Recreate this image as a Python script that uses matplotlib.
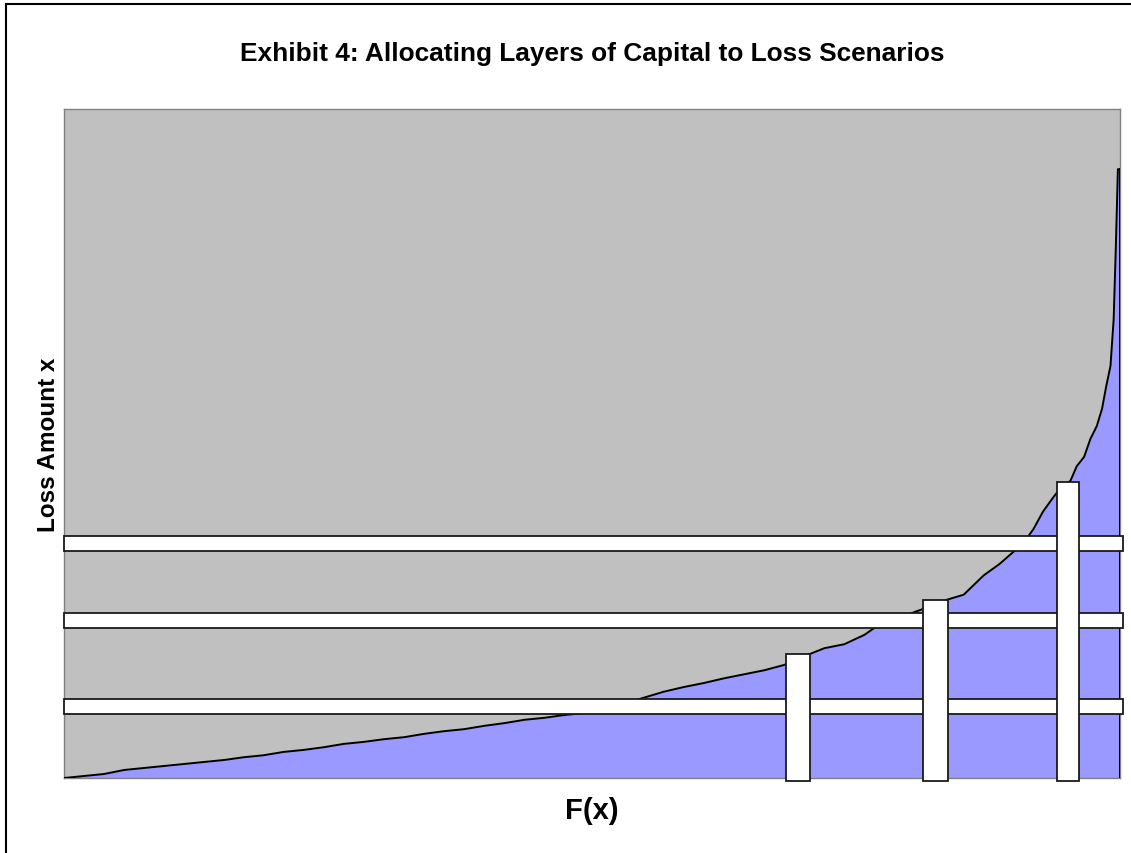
import numpy as np
import matplotlib.pyplot as plt
from matplotlib.patches import Rectangle
from matplotlib.lines import Line2D

plt.rcParams['font.family'] = ['Liberation Sans', 'DejaVu Sans']

# ---------------- data read off the exhibit ----------------
# cumulative probability F(x) and loss amount x (plot units 0..100)
F = [0.000, 0.019, 0.038, 0.057, 0.076, 0.095, 0.114, 0.133, 0.152, 0.170,
     0.189, 0.208, 0.227, 0.246, 0.265, 0.284, 0.303, 0.322, 0.341, 0.360,
     0.379, 0.398, 0.417, 0.436, 0.455, 0.473, 0.492, 0.511, 0.530, 0.549,
     0.568, 0.587, 0.606, 0.625, 0.644, 0.663, 0.682, 0.701, 0.720, 0.739,
     0.758, 0.777, 0.795, 0.814, 0.833, 0.852, 0.871, 0.886, 0.899, 0.908,
     0.918, 0.927, 0.937, 0.946, 0.953, 0.959, 0.966, 0.972, 0.978, 0.983,
     0.987, 0.991, 0.994, 0.996, 0.998, 1.000]
loss = [0.0, 0.3, 0.6, 1.2, 1.5, 1.8, 2.1, 2.4, 2.7, 3.1,
        3.4, 3.9, 4.2, 4.6, 5.1, 5.4, 5.8, 6.1, 6.6, 7.0,
        7.3, 7.8, 8.2, 8.7, 9.0, 9.4, 9.7, 10.3, 11.1, 12.0,
        12.9, 13.6, 14.2, 14.9, 15.5, 16.1, 16.9, 18.2, 19.4, 20.0,
        21.4, 23.5, 24.2, 25.3, 26.5, 27.4, 30.3, 32.0, 33.8, 35.0,
        37.2, 39.8, 42.0, 43.8, 44.4, 46.6, 48.0, 50.7, 52.6, 55.2,
        58.6, 61.6, 68.6, 79.1, 91.0, 91.0]

# horizontal capital layers: (bottom, top) in loss units
layers = [(33.9, 36.2), (22.4, 24.7), (9.6, 11.8)]
# vertical scenario bars: (F left, F right, loss top)
scenarios = [(0.684, 0.706, 18.5), (0.813, 0.837, 26.6), (0.940, 0.961, 44.2)]

# ---------------- figure ----------------
fig = plt.figure(figsize=(11.31, 8.54), dpi=100)
ax = fig.add_axes([64/1131, 75/854, 1056/1131, 669/854])
ax.set_facecolor('#C0C0C0')
for s in ax.spines.values():
    s.set_color('#808080')
    s.set_linewidth(1.0)

ax.fill_between(F, loss, 0, color='#9999FF', lw=0, zorder=2)
ax.plot(F, loss, color='black', lw=1.4, zorder=3)
ax.plot([F[-1], F[-1]], [loss[-1], 0], color='black', lw=1.4, zorder=3)

for lo, hi in layers:
    ax.add_patch(Rectangle((0, lo), 1.003, hi - lo, facecolor='white',
                           edgecolor='#1a1a1a', lw=1.3, zorder=4, clip_on=False))
for x0, x1, top in scenarios:
    ax.add_patch(Rectangle((x0, -0.5), x1 - x0, top + 0.5, facecolor='white',
                           edgecolor='#1a1a1a', lw=1.3, zorder=5, clip_on=False))

ax.set_xlim(0, 1)
ax.set_ylim(0, 100)
ax.set_xticks([])
ax.set_yticks([])

ax.set_xlabel('F(x)', fontsize=21, fontweight='bold', labelpad=13)
ax.set_ylabel('Loss Amount x', fontsize=17.5, fontweight='bold', labelpad=3)
fig.text(592/1131, 1 - 54/854, 'Exhibit 4: Allocating Layers of Capital to Loss Scenarios',
         ha='center', va='center', fontsize=18.9, fontweight='bold')

# frame of the exhibit (top and left edges only visible)
fig.add_artist(Line2D([6/1131, 1], [1 - 5/854, 1 - 5/854], color='black', lw=1.5))
fig.add_artist(Line2D([6/1131, 6/1131], [0, 1 - 5/854], color='black', lw=1.5))

fig.savefig('out.png', dpi=100)
